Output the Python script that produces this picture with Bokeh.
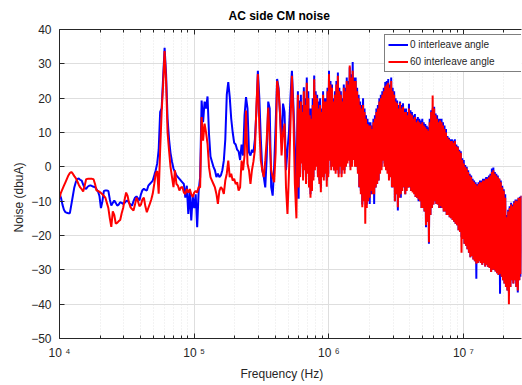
import numpy as np
from bokeh.plotting import figure
from bokeh.models import (FixedTicker, LogAxis, CustomJSTickFormatter, Legend,
                          LegendItem, ColumnDataSource, Title)
from bokeh.embed import file_html
from bokeh.resources import INLINE

# ---------------- data ----------------
# analyser sweep: a coarse log grid below ~0.57 MHz, a fine one above it
lf_start_hz, lf_stop_hz = 1.0e4, 5.6e5
hf_start_hz, hf_stop_hz = 5.75e5, 2.7e7

# 0 deg interleave, coarse part
noise_0deg_lf = [
    -7.8, -9, -11, -12.5, -13.2, -13.4, -13.5, -13.5, -11, -8.5,
    -6, -4.5, -3.6, -3.4, -3.8, -4, -5.2, -6.2, -6.4, -5.8,
    -5.5, -5.4, -5.6, -5.8, -5.9, -6.5, -7.2, -8.5, -12, -10,
    -7, -6.9, -6.9, -7, -9.5, -11.3, -10.5, -9.8, -10.5, -11.3,
    -11, -10.3, -10.5, -10.8, -10.5, -10, -9.8, -10.5, -11, -11.3,
    -10, -9, -8.6, -9.2, -9.8, -8, -6.8, -6.4, -6.7, -6.9,
    -5.5, -5, -4.5, -4, -2.5, -1, 1, 5, 16, 17,
    26, 34.7, 27, 14, 8, 4, 1.5, -0.5, -1.5, -2.5,
    -3, -3.5, -4, -4.5, -5, -9, -5.5, -13.7, -7, -15.6,
    -8.5, -12, -8, -17.6, -7, -3, 19.3, 13, 19, 17,
    20.5, 9.5, 3, 1.5, 0, -1, -3, -2, -3, -2.5,
    -1, 1.8, 8, 21, 24.7, 20.3, 14, 10, 7, 6.5,
    5, 4.5, 2, 6.5, 3.3, 15, 20.3, 17, 4.2, 3.3,
    5, 4.2, 8, 16, 28, 20, 8, -1, -3, -6,
    3, 19, 17, -5.9, -8.4, 0, 12, 25.6, 23, 15,
    7, 18.4, 16, -1, 5, 10, 20, 28, 18, 6,
]
# 0 deg interleave, fine part
noise_0deg_hf = [
    -9.3, 8, 22, -9.3, 19.3, -2, 21, 3, 18, -3,
    23.2, 0, 20, -4, 26, -1, 22, -4, 17, -8,
    17, -6, 20, -3, 26.6, 0, 22, 2, 21, -2,
    19, -4, 20, -6, 17, -2, 22, -3, 20, -1,
    20, -4, 23, -2, 28, 2, 25, 0, 24, 1,
    20, -1, 22, -1, 25, 0, 27.5, -2, 23, 1,
    22, -2, 20, 0, 24, -1, 23, 1, 26, 2,
    25, 2, 29, 0, 27, 1, 30.5, 3, 26, 1,
    26, 0, 23, -1, 21, -6, 19, -7, 18, -11,
    20, -9, 17, -10, 15, -11, 14, -9, 13, -10.8,
    13, -8, 12, -7, 14, -10.8, 15, -6, 17, -5,
    18, -4, 20, -1, 21, 0, 22, 2, 23, 1,
    24.7, 0, 25, -1, 25.6, -3, 24, -2, 26, -6,
    23, -5, 22, -10, 20, -8, 19.3, -12.7, 18, -8,
    19, -9, 18, -6, 18.5, -6, 17, -8, 17, -6,
    16, -6, 18.4, -6, 16.5, -7, 16, -7, 15, -7,
    15.4, -8.8, 14, -9, 14.5, -10, 14, -10, 13.5, -12,
    14, -12, 13, -13, 12.5, -17.6, 12, -16, 11.5, -22.4,
    14, -14, 16.5, -12, 17, -11, 17.5, -10, 15.5, -10.8,
    15, -11, 14, -12, 14, -12, 14, -12, 13, -13,
    12, -13, 11, -14, 9, -14, 8.5, -14.7, 8, -15,
    8, -15.5, 7.7, -16, 8, -16.6, 6.5, -17, 6, -18.5,
    5, -19, 4.5, -20.5, 2.5, -21, 2, -22.4, 0.5, -23,
    0, -24, -1, -25, -2, -26.3, -2.5, -26, -3.5, -27,
    -4, -27.5, -4.5, -32.6, -5, -28, -4.5, -27.5, -4, -28,
    -4, -28.5, -3.5, -28, -3.5, -29, -3, -28.5, -3, -29.2,
    -2.5, -29.5, -2, -30.6, -0.5, -30, -0.2, -30, -1.5, -30.5,
    -2, -31, -2.5, -31.5, -3.4, -37, -4, -32, -5.5, -33,
    -6.5, -34, -8, -35, -14, -36, -12.5, -36.6, -11.5, -35,
    -10.5, -33, -11, -34, -10, -33, -9.5, -35, -9.5, -36.6,
    -9, -33, -8.7, -32, -8.4,
]

# 60 deg interleave, coarse part
noise_60deg_lf = [
    -9, -7.5, -6.5, -5.5, -4.5, -3.5, -2.5, -1.8, -1.5, -2,
    -2.7, -3.3, -4.2, -5.2, -6, -6.5, -7.2, -5.5, -3.6, -3.5,
    -3.5, -3.5, -3.5, -3.6, -5, -6.9, -7, -7.3, -7.6, -8,
    -8.5, -9, -10.5, -12, -15, -17.5, -13, -14, -16.5, -16.3,
    -15.8, -15.5, -13.5, -12, -9.5, -7.5, -8.5, -10.5, -11.8, -12.3,
    -12.7, -11, -9, -10, -11.5, -11, -9.5, -9, -11.5, -13.2,
    -12, -10.8, -9.5, -7.8, -5, -2, -1.2, -7.8, 5, 16,
    24, 33.7, 25, 10, 4.8, 0, -3, -5.9, -1, -5,
    -5.5, -6.9, -6, -5.9, -7.5, -7.9, -6.5, -7.5, -6.5, -8,
    -8.8, -7.5, -7, -7.5, -5.9, -6, 14.5, 7.6, 12.6, 10,
    6.7, -0.1, -3, -4, -5, -6, -7.9, -10.8, -7, -5.9,
    -6.5, -7.9, -4, -2, 1.8, -3, -2, -4, -3.5, -5,
    -4.5, -6.9, -6, 1.8, -1, 3.3, 16.4, 0.9, -1, -5,
    -1, 1.5, 5, 17.4, 27, 11.6, 1.8, -1, -3, 1.8,
    8, 17.3, 7.6, -1, -3, -4.5, 4.2, 25, 22, 15.5,
    3.3, 10, 12.6, -5.9, -13.7, -2, 12, 26.5, 15, -5,
]
# 60 deg interleave, fine part
noise_60deg_hf = [
    -15, 6, 21, -6, 17, -3, 19, 1, 16, -4,
    22, -1, 18, -5, 24.5, -2, 20, -6, 15, -9,
    14, -7, 18, -4, 25.5, -1, 21, 0, 20, -3,
    17, -5, 18, -7.4, 16, -3, 21, -4, 19, -2,
    19, -5.8, 22, -3, 27, 1.8, 24, -1, 23, 0,
    19, -1.1, 21, -2, 24, -1, 26.5, -3, 22, 0,
    21, -3, 19, -1, 23, -2, 22, 0, 25, 1,
    24, 1.8, 29.5, -1, 26, 0, 28, 2, 25, 0,
    25, 0, 22, -2, 20, -5.9, 18, -8, 17, -11.8,
    18, -10, 16, -16.6, 14, -12, 12.5, -10, 12, -9,
    12, -7, 11, -8, 13, -8, 14, -6, 16, -5,
    17, -4, 19, -2, 20, -1, 21, 1.8, 22, 0,
    23.5, -1, 24, -2, 24.5, -4, 23, -3, 25, -5.9,
    22, -6, 21, -10, 19, -8, 18.5, -11.8, 17, -9,
    18.5, -8, 17, -7, 17.5, -5.9, 16, -8, 16, -7,
    15, -6, 17, -5.9, 15.5, -7, 15, -7.5, 14, -8,
    14.5, -8.8, 13, -9, 13.5, -9.5, 13, -10, 12.5, -12,
    13, -12, 12, -13, 11.5, -17, 11, -16, 10.5, -22,
    13, -14, 16, -12, 20.8, -11, 17, -10, 15, -10.8,
    14, -11, 13, -12, 13.5, -11.5, 13, -12, 12, -13,
    11, -13, 10, -14, 8.6, -14, 8, -14.7, 7.5, -15,
    7.5, -15.5, 7, -16, 7.5, -16.6, 6, -17, 5.7, -18.5,
    4.5, -19, 4, -25, 2, -21, 1, -22.4, 0, -23,
    -0.5, -24, -1.5, -25, -2.5, -26.3, -3, -26, -4, -27,
    -4.5, -27.5, -5, -28.2, -5.5, -28, -5, -27.5, -4.5, -28,
    -4.5, -28.5, -4, -28, -4, -29, -3.5, -28.5, -3.5, -29.2,
    -3, -29.5, -2.5, -30.6, -1.5, -30, -1, -30, -2, -30.5,
    -2.5, -31, -3, -31.5, -3.5, -31.2, -4.5, -32, -6, -33,
    -7, -34, -9, -35, -14.7, -36, -13, -40, -12, -35,
    -11, -33, -11.5, -34, -10.5, -33, -9.8, -35, -10, -36,
    -9, -33, -9, -31.2, -8.4,
]

series_labels = ["0 interleave angle", "60 interleave angle"]
x_major_ticks = [1e4, 1e5, 1e6, 1e7]
x_minor_ticks = [m * 10 ** e for e in range(4, 8) for m in range(2, 10)
                 if m * 10 ** e <= hf_stop_hz]
y_ticks = [-50, -40, -30, -20, -10, 0, 10, 20, 30, 40]

# frequency points of the sweep
freq_hz = np.concatenate([
    np.geomspace(lf_start_hz, lf_stop_hz, len(noise_0deg_lf)),
    np.geomspace(hf_start_hz, hf_stop_hz, len(noise_0deg_hf)),
])
src = ColumnDataSource(dict(
    f=freq_hz,
    a=noise_0deg_lf + noise_0deg_hf,
    b=noise_60deg_lf + noise_60deg_hf,
))

FONT = "Liberation Sans"
TXT = "#262626"

p = figure(width=522, height=385, x_axis_type="log",
           x_range=(lf_start_hz, hf_stop_hz), y_range=(-50, 40),
           output_backend="svg", toolbar_location=None,
           min_border_left=59, min_border_right=1,
           min_border_top=29, min_border_bottom=47)
p.background_fill_color = "white"
p.border_fill_color = "white"
p.outline_line_color = None

p.title.text = "AC side CM noise"
p.title.align = "left"
p.title.offset = 169
p.title.standoff = 13
p.title.text_font = FONT
p.title.text_font_size = "12px"
p.title.text_font_style = "bold"
p.title.text_color = "black"

xt = FixedTicker(ticks=x_major_ticks, minor_ticks=x_minor_ticks)
yt = FixedTicker(ticks=y_ticks, minor_ticks=[])
fmt = CustomJSTickFormatter(code="""
const s = {4: '\\u2074', 5: '\\u2075', 6: '\\u2076', 7: '\\u2077'};
return '10 ' + s[Math.round(Math.log10(tick))];
""")

for ax in (p.xaxis[0], p.yaxis[0]):
    ax.axis_line_color = TXT
    ax.major_tick_line_color = TXT
    ax.minor_tick_line_color = TXT
    ax.major_tick_in = 5
    ax.major_tick_out = 0
    ax.minor_tick_in = 3
    ax.minor_tick_out = 0
    ax.major_label_text_font = FONT
    ax.major_label_text_font_size = "12px"
    ax.major_label_text_color = TXT
    ax.major_label_standoff = 8
p.xaxis.major_label_standoff = 7

p.xaxis.ticker = xt
p.xaxis.formatter = fmt
p.yaxis.ticker = yt

top_axis = LogAxis(ticker=xt,
                   formatter=CustomJSTickFormatter(code="return ''"),
                   major_label_text_font_size="1px",
                   major_label_standoff=0, major_tick_in=5, major_tick_out=0,
                   minor_tick_in=3, minor_tick_out=0, axis_line_color=TXT,
                   major_tick_line_color=TXT, minor_tick_line_color=TXT)
p.add_layout(top_axis, "above")

p.add_layout(Title(text="Frequency (Hz)", align="left", offset=181,
                   standoff=4, text_font=FONT, text_font_size="12px",
                   text_font_style="normal", text_color=TXT), "below")
p.add_layout(Title(text="Noise (dbuA)", align="left", offset=106,
                   standoff=6, text_font=FONT, text_font_size="12px",
                   text_font_style="normal", text_color=TXT), "left")

p.xgrid.ticker = xt
p.ygrid.ticker = yt
p.xgrid.grid_line_color = "#dedede"
p.ygrid.grid_line_color = "#dedede"
p.xgrid.minor_grid_line_color = "#e6e6e6"
p.xgrid.minor_grid_line_dash = "1 2"

r0 = p.line("f", "a", source=src, color="#0000ff", line_width=2)
r1 = p.line("f", "b", source=src, color="#ff0000", line_width=2)

leg = Legend(items=[LegendItem(label=series_labels[0], renderers=[r0]),
                    LegendItem(label=series_labels[1], renderers=[r1])],
             location=(325, 266), margin=0, padding=3, spacing=4,
             glyph_width=20, glyph_height=13, label_height=13,
             label_width=108, label_standoff=2,
             label_text_font=FONT, label_text_font_size="10px",
             label_text_color=TXT,
             border_line_color="black", border_line_width=1,
             background_fill_color="white", background_fill_alpha=1)
p.add_layout(leg)

open("out.html", "w").write(file_html(p, INLINE))
